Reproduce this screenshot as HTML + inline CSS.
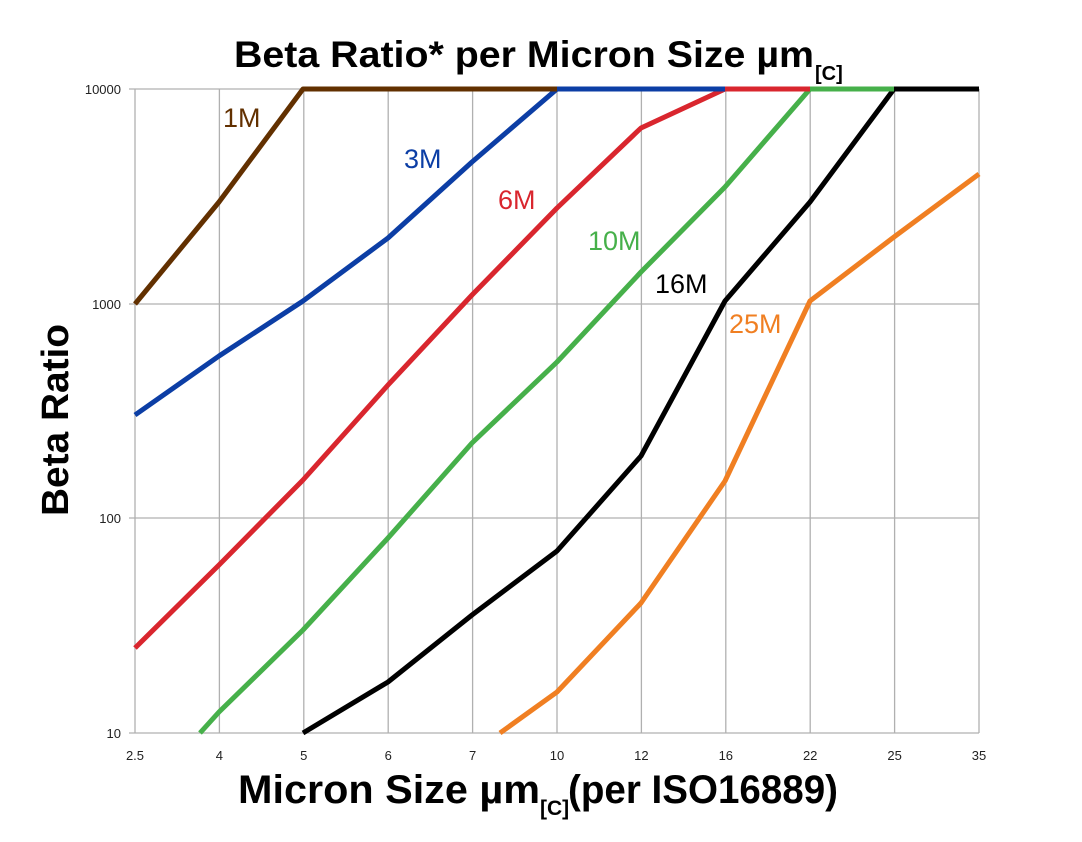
<!DOCTYPE html>
<html><head><meta charset="utf-8"><style>
html,body{margin:0;padding:0;background:#fff;}
svg{display:block;font-family:"Liberation Sans",Arial,sans-serif;}
</style></head><body>
<svg width="1082" height="842" viewBox="0 0 1082 842">
<rect width="1082" height="842" fill="#fff"/>
<g stroke="#b0b0b0" stroke-width="1.3" fill="none">
<line x1="129" y1="89" x2="979" y2="89"/>
<line x1="129" y1="304" x2="979" y2="304"/>
<line x1="129" y1="518" x2="979" y2="518"/>
<line x1="129" y1="733" x2="979" y2="733"/>
<line x1="135" y1="89" x2="135" y2="733"/>
<line x1="219.4" y1="89" x2="219.4" y2="733"/>
<line x1="303.8" y1="89" x2="303.8" y2="733"/>
<line x1="388.2" y1="89" x2="388.2" y2="733"/>
<line x1="472.6" y1="89" x2="472.6" y2="733"/>
<line x1="557" y1="89" x2="557" y2="733"/>
<line x1="641.4" y1="89" x2="641.4" y2="733"/>
<line x1="725.8" y1="89" x2="725.8" y2="733"/>
<line x1="810.2" y1="89" x2="810.2" y2="733"/>
<line x1="894.6" y1="89" x2="894.6" y2="733"/>
<line x1="979" y1="89" x2="979" y2="733"/>
</g>
<g fill="none" stroke-width="5" stroke-linejoin="round">
<polyline stroke="#f07f22" points="500,733 557,692 641,603 725,481 810,301 894,237 979,174"/>
<polyline stroke="#000" points="303,733 388,682 472,615 557,551 641,456 725,301 810,202 894,89 979,89"/>
<polyline stroke="#46b04a" points="200,733 219,712 303,630 388,538 472,443 557,362 641,272 725,187 810,89 894,89"/>
<polyline stroke="#d9262e" points="135,648 219,565 303,480 388,385 472,295 557,208 641,128 725,89 810,89"/>
<polyline stroke="#0c3ea5" points="135,415 219,356 303,301 388,238 472,162 557,89 725,89"/>
<polyline stroke="#623000" points="135,304 219,202 303,89 557,89"/>
</g>
<g font-size="27">
<text x="223" y="127" fill="#623000">1M</text>
<text x="404" y="168" fill="#0c3ea5">3M</text>
<text x="498" y="209" fill="#d9262e">6M</text>
<text x="588" y="250" fill="#46b04a">10M</text>
<text x="655" y="293" fill="#000">16M</text>
<text x="729" y="333" fill="#f07f22">25M</text>
</g>
<g font-size="13" fill="#222" text-anchor="end">
<text x="121" y="94">10000</text>
<text x="121" y="309">1000</text>
<text x="121" y="523">100</text>
<text x="121" y="738">10</text>
</g>
<g font-size="13" fill="#222" text-anchor="middle">
<text x="135" y="760">2.5</text><text x="219.4" y="760">4</text><text x="303.8" y="760">5</text>
<text x="388.2" y="760">6</text><text x="472.6" y="760">7</text><text x="557" y="760">10</text>
<text x="641.4" y="760">12</text><text x="725.8" y="760">16</text><text x="810.2" y="760">22</text>
<text x="894.6" y="760">25</text><text x="979" y="760">35</text>
</g>
<text x="234" y="67" font-size="37" font-weight="bold" textLength="580" lengthAdjust="spacingAndGlyphs">Beta Ratio* per Micron Size µm</text>
<text x="815" y="80" font-size="20" font-weight="bold">[C]</text>
<text x="238" y="803" font-size="40" font-weight="bold" textLength="302" lengthAdjust="spacingAndGlyphs">Micron Size µm</text>
<text x="540" y="815" font-size="21" font-weight="bold">[C]</text>
<text x="568" y="803" font-size="40" font-weight="bold" textLength="270" lengthAdjust="spacingAndGlyphs">(per ISO16889)</text>
<text transform="translate(68,516) rotate(-90)" font-size="38" font-weight="bold" textLength="192" lengthAdjust="spacingAndGlyphs">Beta Ratio</text>
</svg>
</body></html>
